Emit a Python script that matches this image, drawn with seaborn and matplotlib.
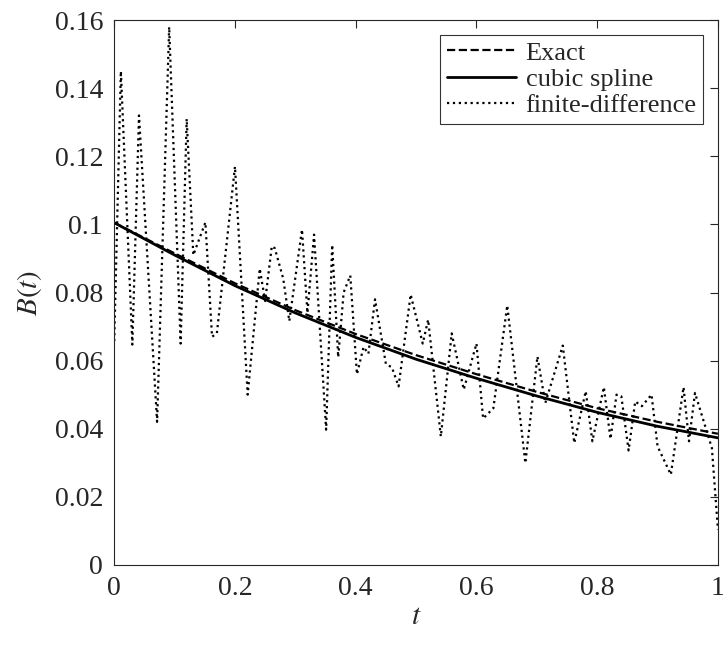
import matplotlib
matplotlib.use('Agg')
import matplotlib.pyplot as plt
import seaborn as sns

# exact solution and cubic spline, read at t = 0, 0.1, ..., 1
t_smooth = [0.0, 0.1, 0.2, 0.3, 0.4, 0.5, 0.6, 0.7, 0.8, 0.9, 1.0]
exact = [0.1005, 0.0915, 0.0827, 0.0748, 0.0678, 0.0616, 0.0560, 0.0508, 0.0460, 0.0420, 0.0385]
spline = [0.1005, 0.0910, 0.0820, 0.0740, 0.0668, 0.0604, 0.0548, 0.0496, 0.0448, 0.0407, 0.0373]

# finite-difference result (turning points)
t_fd = [0.000, 0.011, 0.030, 0.041, 0.071, 0.091, 0.110, 0.120, 0.131, 0.151,
        0.162, 0.170, 0.200, 0.221, 0.241, 0.250, 0.261, 0.266, 0.280, 0.290,
        0.311, 0.320, 0.331, 0.351, 0.361, 0.371, 0.380, 0.391, 0.402, 0.413,
        0.421, 0.432, 0.450, 0.460, 0.471, 0.491, 0.511, 0.520, 0.541, 0.559,
        0.579, 0.600, 0.611, 0.628, 0.651, 0.681, 0.701, 0.714, 0.743, 0.762,
        0.781, 0.792, 0.811, 0.822, 0.832, 0.840, 0.852, 0.863, 0.874, 0.890,
        0.900, 0.922, 0.943, 0.952, 0.962, 0.990, 1.000]
fd = [0.0657, 0.1450, 0.0647, 0.1320, 0.0420, 0.1580, 0.0650, 0.1310, 0.0910, 0.1006,
      0.0670, 0.0680, 0.1170, 0.0500, 0.0870, 0.0775, 0.0936, 0.0930, 0.0840, 0.0716,
      0.0985, 0.0740, 0.0970, 0.0397, 0.0940, 0.0610, 0.0800, 0.0850, 0.0560, 0.0640,
      0.0620, 0.0780, 0.0590, 0.0580, 0.0524, 0.0794, 0.0650, 0.0720, 0.0377, 0.0680,
      0.0515, 0.0650, 0.0430, 0.0460, 0.0762, 0.0299, 0.0612, 0.0475, 0.0644, 0.0358,
      0.0510, 0.0363, 0.0522, 0.0370, 0.0500, 0.0495, 0.0336, 0.0480, 0.0466, 0.0500,
      0.0348, 0.0265, 0.0522, 0.0363, 0.0505, 0.0343, 0.0103]

xticks = [0, 0.2, 0.4, 0.6, 0.8, 1]
xticklabels = ['0', '0.2', '0.4', '0.6', '0.8', '1']
yticks = [0, 0.02, 0.04, 0.06, 0.08, 0.1, 0.12, 0.14, 0.16]
yticklabels = ['0', '0.02', '0.04', '0.06', '0.08', '0.1', '0.12', '0.14', '0.16']

sns.set_style('white')
plt.rcParams['font.family'] = ['Liberation Serif', 'DejaVu Serif']
plt.rcParams['mathtext.fontset'] = 'stix'

fig, ax = plt.subplots(figsize=(7.23, 6.5), dpi=100)
fig.subplots_adjust(left=0.158, right=0.993, top=0.969, bottom=0.131)

sns.lineplot(x=t_smooth, y=exact, ax=ax, color='black', linestyle='--', linewidth=1.6, label='Exact')
sns.lineplot(x=t_smooth, y=spline, ax=ax, color='black', linestyle='-', linewidth=2.0, label='cubic spline')
sns.lineplot(x=t_fd, y=fd, ax=ax, color='black', linestyle=':', linewidth=1.6, label='finite-difference')

ax.set_xlim(0, 1)
ax.set_ylim(0, 0.16)
ax.set_xticks(xticks)
ax.set_xticklabels(xticklabels)
ax.set_yticks(yticks)
ax.set_yticklabels(yticklabels)
ax.tick_params(direction='in', length=6, width=0.8, top=True, right=True,
               labelsize=20, colors='#262626', pad=8)
for s in ax.spines.values():
    s.set_color('#262626')
    s.set_linewidth(0.8)

ax.set_xlabel('$t$', fontsize=21, labelpad=2)
ax.set_ylabel('$B(t)$', fontsize=21, labelpad=8)

leg = ax.legend(loc='upper right', fontsize=19, frameon=True, fancybox=False,
                edgecolor='black', borderpad=0.25, labelspacing=0.1,
                handlelength=2.65, handletextpad=0.35, borderaxespad=0.55)
leg.get_frame().set_linewidth(0.8)

fig.savefig('out.png', dpi=100)
